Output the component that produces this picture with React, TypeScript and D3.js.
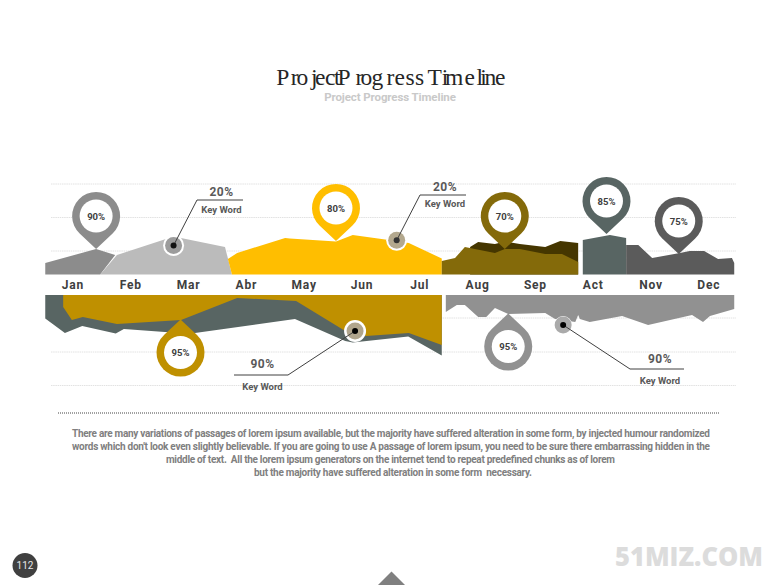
import React from "react";
import * as d3 from "d3";

type P = [number, number];
const months = ["Jan","Feb","Mar","Abr","May","Jun","Jul","Aug","Sep","Act","Nov","Dec"];

// [month position, value]
const janArea: P[] = [[-0.48,0],[-0.48,11.5],[0.40,25.5],[0.73,19.5],[0.47,0]];
const marArea: P[] = [[0.47,0],[0.76,19.5],[1.74,38],[2.63,27.5],[2.75,0]];
const junArea: P[] = [[2.75,0],[2.68,15.5],[2.84,21.5],[3.67,36.5],[3.75,36],[4.55,33],[4.84,39.5],[5.40,35],[5.81,31.5],[6.38,16],[6.38,0]];
const sepBack: P[] = [[6.87,0],[6.87,27.5],[7.01,32.5],[7.30,30.5],[7.47,33],[7.73,30.5],[8.17,27.5],[8.43,33.5],[8.74,31.5],[8.74,0]];
const augFront: P[] = [[6.38,0],[6.38,13.5],[6.61,16.5],[6.78,27.5],[7.30,21.5],[7.47,25.5],[7.73,25.5],[8.17,20.5],[8.46,20.5],[8.74,12.5],[8.74,0]];
const actArea: P[] = [[8.82,0],[8.82,34.5],[9.29,39.5],[9.57,36.5],[9.57,0]];
const novArea: P[] = [[9.57,0],[9.57,29.5],[9.78,29.5],[10.02,16.5],[10.50,21.5],[10.67,23.5],[10.92,23.5],[11.16,15.5],[11.40,16.5],[11.44,11.5],[11.44,0]];

const slateLow: P[] = [[-0.48,0],[-0.48,23.5],[-0.14,38],[0.16,31],[0.74,38.5],[0.88,34],[1.59,37],[2.11,38],[3.84,24],[4.71,46],[4.84,47.5],[5.80,41.5],[6.38,60.5],[6.38,0]];
const goldLow: P[] = [[-0.17,0],[-0.17,12],[-0.02,25],[0.17,22],[0.76,29],[1.87,25],[2.84,3],[3.86,6],[4.71,36],[5.07,41],[5.81,38],[6.38,50],[6.38,0]];
const grayLow: P[] = [[6.45,0],[6.45,17],[6.64,10],[6.78,10],[7.01,22],[7.15,22],[7.30,13],[7.53,19],[8.17,18],[8.34,24],[8.69,27],[8.74,20],[8.77,24],[8.94,27],[9.50,21],[9.95,30],[10.71,20],[10.90,27],[11.02,21],[11.44,14],[11.44,0]];

const upperPinLabels = ["90%","80%","70%","85%","75%"];
const upperPinMonths = [0.40,4.55,7.47,9.23,10.48];
const upperPinValues = [25.5,33.5,25.5,40.5,20.5];
const upperPinColors = ["#8c8c8c","#ffbe00","#846a0a","#586563","#5b5b5b"];
const lowerPinLabels = ["95%","95%"];
const lowerPinMonths = [1.86,7.53];
const lowerPinValues = [24.5,18.5];
const lowerPinColors = ["#bf9000","#919191"];

const titleText = "ProjectProgress Timeline";
const titleCharX = [276.2,290.7,296.5,311,315,325,334,337.5,355.5,360.5,371.5,386.5,394.5,405.5,415,425,427.5,441.7,445,464.5,476.5,480.2,484.5,495];

const paragraph = [
  "There are many variations of passages of lorem ipsum available, but the majority have suffered alteration in some form, by injected humour randomized",
  "words which don't look even slightly believable. If you are going to use A passage of lorem ipsum, you need to be sure there embarrassing hidden in the",
  "middle of text.  All the lorem ipsum generators on the internet tend to repeat predefined chunks as of lorem",
  "but the majority have suffered alteration in some form  necessary.",
];
const paraX = [72,72,166,254];
const paraW = [638,638,449,278];
const paraY = [437,450,462.5,476];

const W = 780, H = 585;
const x = d3.scaleLinear().domain([0, 11]).range([73, 708.8]);
const yUp = d3.scaleLinear().domain([0, 100]).range([274.5, 174.5]);
const yLow = d3.scaleLinear().domain([0, 100]).range([295, 395]);
const areaUp = d3.area<P>().x(d => x(d[0])).y0(yUp(0)).y1(d => yUp(d[1]));
const areaLow = d3.area<P>().x(d => x(d[0])).y0(yLow(0)).y1(d => yLow(d[1]));

const FONT = "Roboto, sans-serif";
const R = 24, L = 33;
function pinPath(cx: number, tipY: number, dir: number) {
  const cy = tipY - dir * L;
  const sinA = R / L;
  const cosA = Math.sqrt(1 - sinA * sinA);
  const dx = R * cosA, dy = R * sinA;
  return `M${cx},${tipY} L${cx - dx},${cy + dir * dy} A${R},${R} 0 1 ${dir > 0 ? 1 : 0} ${cx + dx},${cy + dir * dy} Z`;
}
function Pin({ m, v, label, color, up }: { m: number; v: number; label: string; color: string; up: boolean }) {
  const cx = x(m), tip = up ? yUp(v) : yLow(v), dir = up ? 1 : -1, cy = tip - dir * L;
  return (
    <g>
      <path d={pinPath(cx, tip, dir)} fill={color} />
      <circle cx={cx} cy={cy} r={16.5} fill="#fff" />
      <text x={cx} y={cy + 3.5} textAnchor="middle" fontFamily={FONT} fontWeight={700} fontSize={9.5} fill="#404040">{label}</text>
    </g>
  );
}
function Callout({ px, py, elbow, end, big, small, bigY, smallY, tx, ring, fill, dot }: any) {
  return (
    <g>
      <circle cx={px} cy={py} r={ring} fill="#fff" />
      <circle cx={px} cy={py} r={8.5} fill={fill} />
      <polyline points={`${px},${py} ${elbow[0]},${elbow[1]} ${end},${elbow[1]}`} fill="none" stroke="#404040" strokeWidth={1} />
      <circle cx={px} cy={py} r={3} fill={dot} />
      <text x={tx} y={bigY} textAnchor="middle" fontFamily={FONT} fontWeight={700} fontSize={12} letterSpacing={0.4} fill="#595959">{big}</text>
      <text x={tx} y={smallY} textAnchor="middle" fontFamily={FONT} fontWeight={700} fontSize={9.5} fill="#595959">{small}</text>
    </g>
  );
}

export default function App() {
  const grid = [184, 217.5, 251, 318, 352, 385.5];
  return (
    <svg width={W} height={H} viewBox={`0 0 ${W} ${H}`} style={{ position: "absolute", left: 0, top: 0, display: "block", background: "#fff" }}>
      {grid.map(g => <line key={g} x1={51} x2={736} y1={g} y2={g} stroke="#e2e2e2" strokeWidth={1} strokeDasharray="1.5 0.7" />)}

      <text x={titleCharX.join(" ")} y={85} fontFamily="'Liberation Serif', serif" fontSize={23.5} fill="#262626" xmlSpace="preserve">{titleText}</text>
      <text x={390} y={101} textAnchor="middle" fontFamily={FONT} fontWeight={700} fontSize={11.5} fill="#c9c9c9" letterSpacing={-0.1}>Project Progress Timeline</text>

      <path d={areaUp(janArea)!} fill="#8c8c8c" />
      <path d={areaUp(marArea)!} fill="#bbbbbb" />
      <path d={areaUp(junArea)!} fill="#ffbe00" />
      <path d={areaUp(sepBack)!} fill="#453600" />
      <path d={areaUp(augFront)!} fill="#846a0a" />
      <path d={areaUp(actArea)!} fill="#586563" />
      <path d={areaUp(novArea)!} fill="#5b5b5b" />

      <path d={areaLow(slateLow)!} fill="#586563" />
      <path d={areaLow(goldLow)!} fill="#bf9000" />
      <path d={areaLow(grayLow)!} fill="#919191" />

      {months.map((m, i) => (
        <text key={m} x={x(i)} y={289} textAnchor="middle" fontFamily={FONT} fontWeight={700} fontSize={12} letterSpacing={0.8} fill="#404040">{m}</text>
      ))}

      {upperPinLabels.map((l, i) => <Pin key={i} m={upperPinMonths[i]} v={upperPinValues[i]} label={l} color={upperPinColors[i]} up />)}
      {lowerPinLabels.map((l, i) => <Pin key={i} m={lowerPinMonths[i]} v={lowerPinValues[i]} label={l} color={lowerPinColors[i]} up={false} />)}

      <Callout px={x(1.74)} py={yUp(29)} elbow={[197, 200]} end={243} big="20%" small="Key Word" bigY={196} smallY={213} tx={221.5} ring={10.5} fill="#9c9c9c" dot="#111" />
      <Callout px={x(5.60)} py={yUp(34.2)} elbow={[420, 195]} end={466} big="20%" small="Key Word" bigY={191} smallY={207} tx={445} ring={10.5} fill="#b3a88e" dot="#333" />
      <Callout px={x(4.88)} py={yLow(36)} elbow={[288, 375]} end={234} big="90%" small="Key Word" bigY={368} smallY={390} tx={262.5} ring={11} fill="#b0a58c" dot="#000" />
      <Callout px={x(8.48)} py={yLow(30)} elbow={[630, 369]} end={684} big="90%" small="Key Word" bigY={362.5} smallY={384} tx={660} ring={9} fill="#aaaaaa" dot="#000" />

      <line x1={58} x2={720} y1={413} y2={413} stroke="#444" strokeWidth={1} strokeDasharray="1 1" />
      {paragraph.map((t, i) => (
        <text key={i} x={paraX[i]} y={paraY[i]} fontFamily={FONT} fontWeight={700} fontSize={10} fill="#808080" textLength={paraW[i]} lengthAdjust="spacing" xmlSpace="preserve">{t}</text>
      ))}

      <circle cx={25} cy={565.5} r={12.5} fill="#404040" />
      <text x={25} y={569} textAnchor="middle" fontFamily={FONT} fontSize={10} fill="#e8e8e8">112</text>
      <text x={615} y={566} fontFamily="'Open Sans', sans-serif" fontWeight={800} fontSize={26.5} fill="#dcdcdc" textLength={148} lengthAdjust="spacingAndGlyphs">51MIZ.COM</text>
      <path d={d3.line()([[391.5, 571.5], [405, 585], [378, 585]])! + "Z"} fill="#808080" />
    </svg>
  );
}
